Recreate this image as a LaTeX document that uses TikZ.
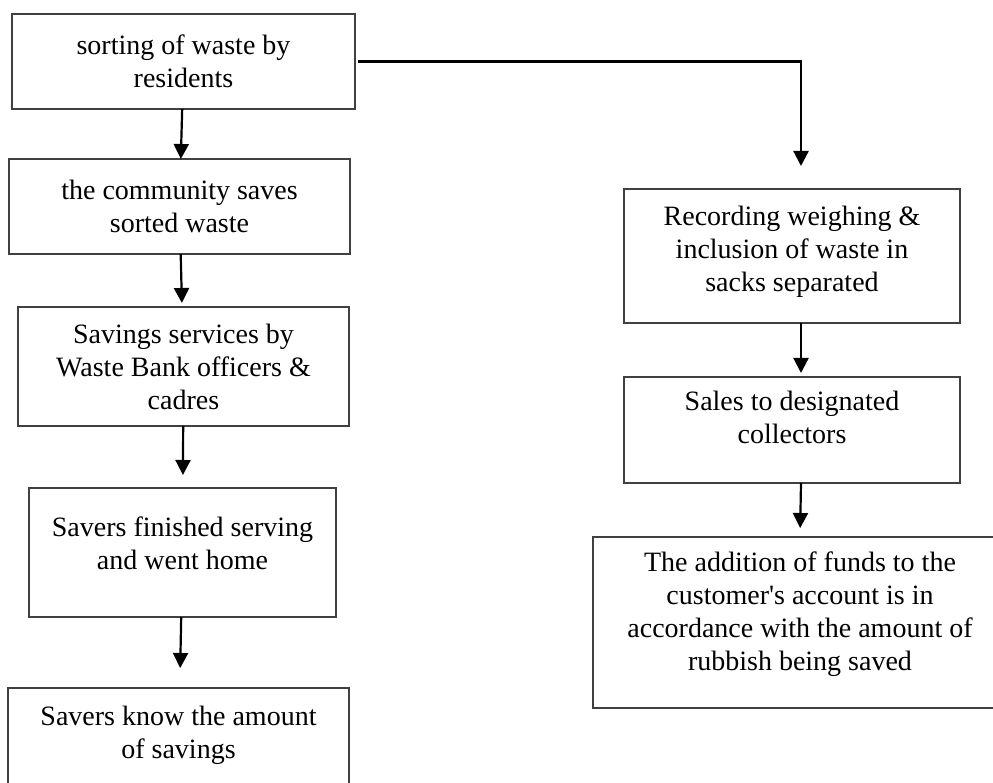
\documentclass[tikz,border=0pt]{standalone}
\usepackage{fontspec}
\setmainfont{Liberation Serif}
\usetikzlibrary{positioning,arrows.meta}
\newcommand{\dropline}[1]{\rule[-#1]{0pt}{#1}}

\begin{document}
\begin{tikzpicture}[x=1pt, y=-1pt,
  box/.style={draw=black!75, line width=1.3pt, rectangle, align=center, inner sep=0pt, outer sep=0pt, font=\fontsize{28}{33}\selectfont},
  flow/.style={line width=2.2pt, -{Triangle[width=15pt,length=15pt]}}]
\useasboundingbox (0,0) rectangle (993,783);
\clip (0,0) rectangle (993,783);
% left column
\node (b1)[box, minimum width=343pt, minimum height=95pt] at (183.5,61.5) {sorting of waste by\\residents};
\node (b2)[box, minimum width=341pt, minimum height=95pt] [below=50pt of b1, xshift=-4pt] {the community saves\\sorted waste};
\node (b3)[box, minimum width=331pt, minimum height=119pt] [below=53pt of b2, xshift=4pt] {Savings services by\\Waste Bank officers \&\\cadres};
\node (b4)[box, minimum width=307pt, minimum height=129pt] [below=62pt of b3, xshift=-1pt] {Savers finished serving\\and went home\dropline{19pt}};
\node (b5)[box, minimum width=341pt, minimum height=130pt] [below=71pt of b4, xshift=-4pt] {Savers know the amount\\of savings\dropline{42pt}};
% right column
\node (b6)[box, minimum width=336pt, minimum height=134pt] at (792,256) {Recording weighing \&\\inclusion of waste in\\sacks separated\dropline{14pt}};
\node (b7)[box, minimum width=336pt, minimum height=106pt] [below=54pt of b6] {Sales to designated\\collectors\dropline{26pt}};
\node (b8)[box, minimum width=414pt, minimum height=171pt] [below=54pt of b7, xshift=8pt] {The addition of funds to the\\customer\textquotesingle s account is in\\accordance with the amount of\\rubbish being saved\dropline{22pt}};
\draw[flow] (b1) -- (b2);
\draw[flow, shorten >=4pt] (b2) -- (b3);
\draw[flow, shorten >=13pt] (b3) -- (b4);
\draw[flow, shorten >=20pt] (b4) -- (b5);
\draw[flow, shorten <=3pt, shorten >=23pt] (b1) -| ([xshift=9pt]b6.north);
\draw[flow, shorten >=4pt] ([xshift=9pt]b6.south) -- ([xshift=9pt]b7.north);
\draw[flow, shorten >=9pt] ([xshift=9pt]b7.south) -- (b8.north);
\end{tikzpicture}
\end{document}
